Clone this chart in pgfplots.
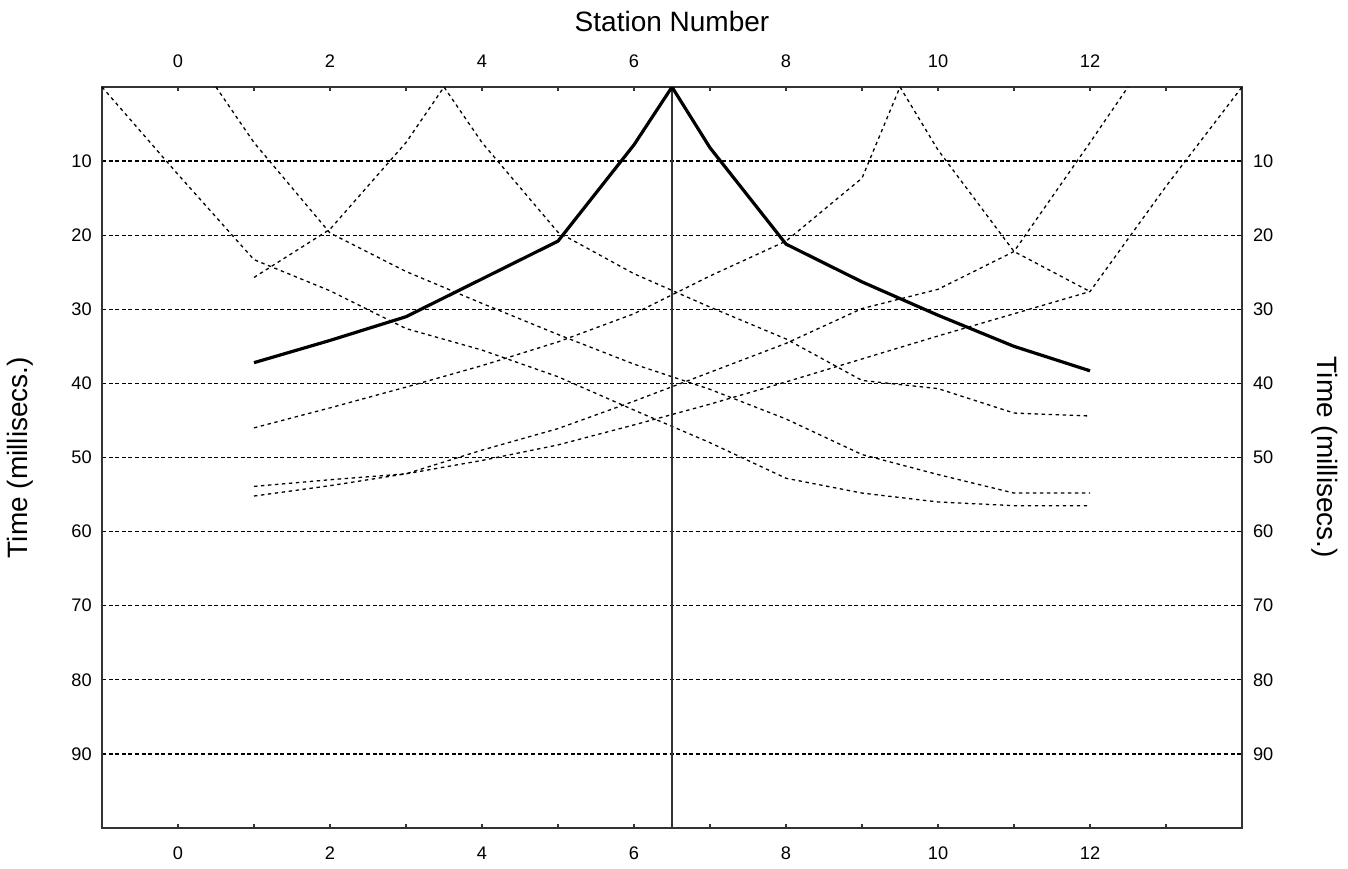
\documentclass[border=0pt]{standalone}
\usepackage{fontspec}
\setmainfont{Liberation Sans}
\usepackage{pgfplots}
\pgfplotsset{compat=1.18}

% shared frame: stations -1..14, time 0..100 ms downwards
\pgfplotsset{
  stn/.style={
    scale only axis, width=570pt, height=370.5pt,
    xmin=-1, xmax=14, ymin=0, ymax=100, y dir=reverse,
    xtick={0,2,...,12}, ytick={10,20,...,90},
    tick label style={font=\fontsize{9.1}{10}\selectfont},
    /pgf/number format/assume math mode=true,
  },
  shot/.style={black, line width=0.65pt, dash pattern=on 1.7pt off 1.8pt},
}

\begin{document}
\begin{tikzpicture}
\useasboundingbox (-51pt,-20pt) rectangle (623pt,414pt);
\begin{axis}[stn,
  minor xtick={1,3,...,13},
  axis line style={draw=black!80, line width=0.9pt},
  xtick pos=both, tick align=inside,
  major tick length=2.2pt, minor tick length=2.2pt,
  xtick style={draw=black!80, line width=0.6pt},
  ytick style={draw=none},
  xticklabel pos=lower, yticklabel pos=left,
  xticklabel style={yshift=-6pt},
  yticklabel style={xshift=-1.6pt},
  ymajorgrids,
  grid style={black, line width=0.65pt, dash pattern=on 2pt off 1.3pt},
]
% shot at -1
\addplot[shot] coordinates {(-1,0) (0,11.8) (1,23.3) (2,27.5) (3,32.6) (4,35.5) (5,39.1) (6,43.6) (7,48) (8,52.8) (9,54.8) (10,56) (11,56.5) (12,56.5)};
% shot at 0.5
\addplot[shot] coordinates {(0.5,0) (1,7.5) (2,19.7) (3,24.9) (4,29.2) (5,33.4) (6,37.4) (7,40.8) (8,44.8) (9,49.6) (10,52.3) (11,54.8) (12,54.8)};
% shot at 3.5
\addplot[shot] coordinates {(1,25.7) (2,19.2) (3,7.5) (3.5,0) (4,7.5) (5,19.6) (6,25.2) (7,29.7) (8,34) (9,39.6) (10,40.7) (11,44) (12,44.4)};
% shot at 9.5
\addplot[shot] coordinates {(1,46) (2,43.3) (3,40.5) (4,37.6) (5,34.4) (6,30.6) (7,25.5) (8,20.8) (9,12.3) (9.5,0) (10,8.5) (11,22.2) (12,27.6)};
% shot at 12.5
\addplot[shot] coordinates {(1,53.9) (2,53) (3,52.2) (4,49) (5,46.1) (6,42.4) (7,38.5) (8,34.6) (9,29.9) (10,27.3) (11,22.2) (12,7.5) (12.5,0)};
% shot at 14
\addplot[shot] coordinates {(1,55.2) (2,53.8) (3,52.2) (4,50.4) (5,48.3) (6,45.6) (7,42.8) (8,39.8) (9,36.7) (10,33.6) (11,30.6) (12,27.6) (13,13.4) (14,0)};
% centre shot marker
\addplot[black!80, line width=0.6pt] coordinates {(6.5,0) (6.5,100)};
% shot at 6.5 (highlighted)
\addplot[black, line width=1.6pt] coordinates {(1,37.2) (2,34.2) (3,31) (4,25.9) (5,20.8) (6,7.8) (6.5,0) (7,8.2) (8,21.2) (9,26.3) (10,30.8) (11,35) (12,38.3)};
\end{axis}

% labels on top and right
\begin{axis}[stn,
  axis line style={draw=none}, major tick length=0pt,
  xticklabel pos=upper, yticklabel pos=right,
  xticklabel style={yshift=6pt},
  yticklabel style={xshift=2pt},
]
\addplot[draw=none] coordinates {(0,0)};
\end{axis}

\node[font=\fontsize{14}{16}\selectfont] at (285pt,403pt) {Station Number};
\node[rotate=90, font=\fontsize{14}{16}\selectfont] at (-41pt,185.25pt) {Time (millisecs.)};
\node[rotate=-90, font=\fontsize{14}{16}\selectfont] at (611.5pt,185.25pt) {Time (millisecs.)};
\end{tikzpicture}
\end{document}
